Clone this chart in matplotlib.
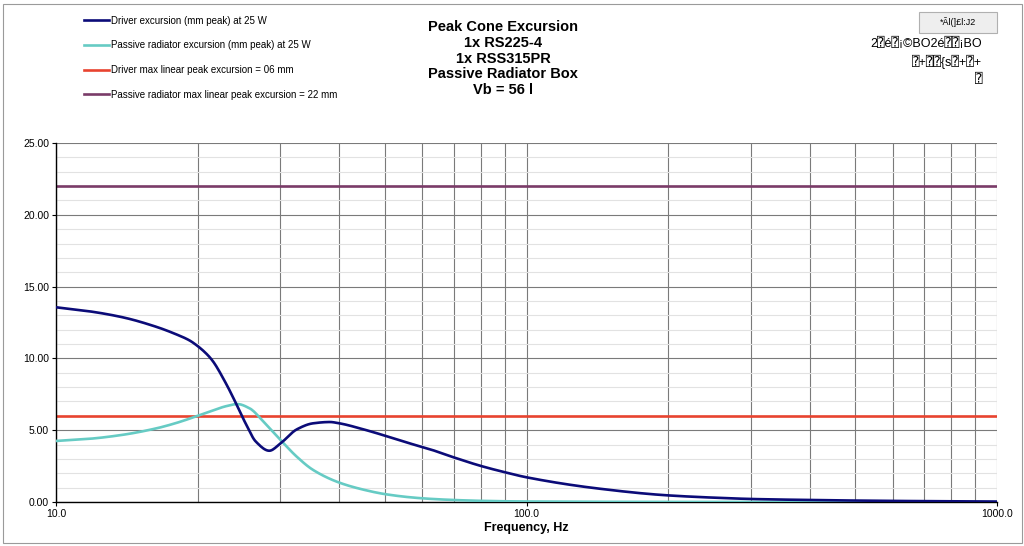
import numpy as np
import matplotlib
matplotlib.use("Agg")
import matplotlib.pyplot as plt
from matplotlib.patches import Rectangle

plt.rcParams['font.family'] = ['Liberation Sans', 'DejaVu Sans']

# ---- data ----
driver_f = [10, 11.77, 13.87, 16.3, 18.0, 19.2, 20, 20.84, 21.5, 22.97, 24.13, 25.34, 26.6,
            28.4, 30, 32.5, 35.2, 38.2, 40, 45.0, 50, 56.5, 62.4, 70, 80, 90, 100, 141, 200,
            270, 300, 400, 500, 700, 1000]
driver_x = [13.56, 13.28, 12.86, 12.21, 11.68, 11.26, 10.86, 10.35, 9.85, 8.26, 6.87, 5.42,
            4.2, 3.57, 4.08, 5.06, 5.48, 5.57, 5.48, 5.06, 4.62, 4.08, 3.67, 3.11, 2.51, 2.07,
            1.72, 0.95, 0.46, 0.26, 0.21, 0.14, 0.10, 0.06, 0.03]

pr_f = [10, 11.77, 13.87, 16.3, 18.0, 20, 21.5, 22.97, 24.3, 25.8, 27.6, 30, 32.5, 35.2,
        40, 45.0, 50, 56.5, 62.4, 70, 80, 100, 200, 500, 1000]
pr_x = [4.25, 4.40, 4.68, 5.12, 5.50, 6.0, 6.36, 6.67, 6.82, 6.52, 5.59, 4.32, 3.15, 2.23,
        1.35, 0.86, 0.55, 0.33, 0.22, 0.14, 0.08, 0.035, 0.005, 0.0, 0.0]

driver_xmax = 6.0
pr_xmax = 22.0

labels = ["Driver excursion (mm peak) at 25 W",
          "Passive radiator excursion (mm peak) at 25 W",
          "Driver max linear peak excursion = 06 mm",
          "Passive radiator max linear peak excursion = 22 mm"]
colors = ["#0b0b78", "#66cbc4", "#e8432f", "#7a3b68"]

title_lines = ["Peak Cone Excursion", "1x RS225-4", "1x RSS315PR",
               "Passive Radiator Box", "Vb = 56 l"]
corner_lines = ["2⍰é⍰¡©BO2é⍰⍰¡BO", "⍰+⍰⍰{s⍰+⍰+", "⍰"]
button_text = "*Ãl(]£l:J2"
y_ticks = [0, 5, 10, 15, 20, 25]
x_ticks = [10, 100, 1000]

# ---- figure ----
W, H = 1024, 546
fig = plt.figure(figsize=(W / 100, H / 100), dpi=100)
fig.patch.set_facecolor("white")

def fx(px):
    return px / W

def fy(py):
    return 1 - py / H

ax = fig.add_axes([fx(56), fy(502), fx(997) - fx(56), fy(143) - fy(502)])

# monotone cubic interpolation in log-f (for drawing smooth curves through read points)
def smooth(fs, vs, n=800):
    x = np.log10(np.asarray(fs, float)); y = np.asarray(vs, float)
    grid = np.linspace(x[0], x[-1], n)
    h = np.diff(x); d = np.diff(y) / h
    m = np.zeros_like(y)
    m[0], m[-1] = d[0], d[-1]
    for i in range(1, len(y) - 1):
        if d[i - 1] * d[i] <= 0:
            m[i] = 0
        else:
            w1 = 2 * h[i] + h[i - 1]; w2 = h[i] + 2 * h[i - 1]
            m[i] = (w1 + w2) / (w1 / d[i - 1] + w2 / d[i])
    idx = np.clip(np.searchsorted(x, grid) - 1, 0, len(x) - 2)
    t = (grid - x[idx]) / h[idx]
    h00 = 2 * t**3 - 3 * t**2 + 1; h10 = t**3 - 2 * t**2 + t
    h01 = -2 * t**3 + 3 * t**2; h11 = t**3 - t**2
    out = h00 * y[idx] + h10 * h[idx] * m[idx] + h01 * y[idx + 1] + h11 * h[idx] * m[idx + 1]
    return 10 ** grid, out

df, dv = smooth(driver_f, driver_x)
pf, pv = smooth(pr_f, pr_x)

ax.set_xscale("log")
ax.set_xlim(10, 1000)
ax.set_ylim(0, 25)

# grid
ax.set_yticks(y_ticks)
ax.set_yticks(np.arange(0, 26, 1), minor=True)
ax.grid(which="minor", axis="y", color="#e2e2e2", lw=0.8)
ax.grid(which="major", axis="y", color="#7a7a7a", lw=0.8)
ax.grid(which="major", axis="x", color="#7a7a7a", lw=0.8)
ax.grid(which="minor", axis="x", color="#7a7a7a", lw=0.8)
ax.set_axisbelow(True)

ax.plot(df, dv, color=colors[0], lw=1.9, label=labels[0], zorder=4)
ax.plot(pf, pv, color=colors[1], lw=1.9, label=labels[1], zorder=3)
ax.axhline(driver_xmax, color=colors[2], lw=1.9, label=labels[2], zorder=2.5)
ax.axhline(pr_xmax, color=colors[3], lw=1.9, label=labels[3], zorder=2.5)

ax.set_xticks(x_ticks)
ax.set_xticklabels([f"{t:.1f}" for t in x_ticks])
ax.xaxis.set_minor_formatter(matplotlib.ticker.NullFormatter())
ax.set_yticklabels([f"{t:.2f}" for t in y_ticks])
ax.tick_params(axis="both", which="major", labelsize=7.5, length=3, width=0.8,
               direction="out", color="black", pad=2)
ax.tick_params(axis="both", which="minor", length=0)
ax.set_xlabel("Frequency, Hz", fontsize=9, fontweight="bold", labelpad=2)

for s in ["top", "right"]:
    ax.spines[s].set_visible(False)
for s in ["left", "bottom"]:
    ax.spines[s].set_color("black")
    ax.spines[s].set_linewidth(1.0)

# legend
handles, labs = ax.get_legend_handles_labels()
ax.legend(handles, labs, loc="upper left", bbox_to_anchor=(fx(80), fy(12)),
          bbox_transform=fig.transFigure, frameon=False, fontsize=7,
          handlelength=2.6, handletextpad=0.2, labelspacing=1.5,
          borderaxespad=0)

# title
fig.text(fx(503), fy(20), "\n".join(title_lines), ha="center", va="top",
         fontsize=10.5, fontweight="bold", linespacing=1.16)

# top-right box and texts
fam = ["Liberation Sans", "DejaVu Sans", "DejaVu Sans Mono", "DejaVu Serif", "Noto Sans CJK SC"]
fig.patches.append(Rectangle((fx(919), fy(33)), fx(78), fy(12) - fy(33),
                             transform=fig.transFigure, facecolor="#eeeeee",
                             edgecolor="#b0b0b0", lw=0.8, zorder=1))
fig.text(fx(958), fy(22.5), button_text, ha="center", va="center", fontsize=6.5, family=fam)
for i, line in enumerate(corner_lines):
    fig.text(fx(982), fy(44 + 18 * i), line, ha="right", va="center",
             fontsize=9, family=fam)

# outer frame
fig.patches.append(Rectangle((fx(3), fy(543)), fx(1019), fy(4) - fy(543),
                             transform=fig.transFigure, facecolor="none",
                             edgecolor="#9a9a9a", lw=0.8))

fig.savefig("out.png", dpi=100)
